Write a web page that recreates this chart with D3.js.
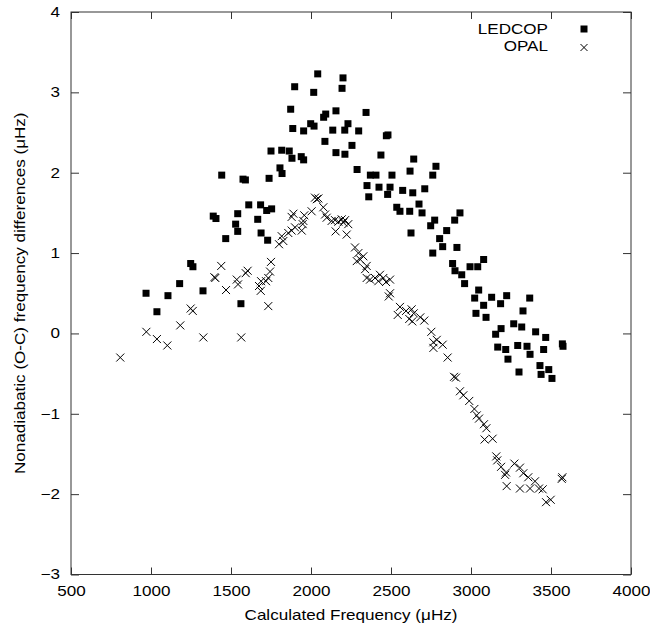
<!DOCTYPE html>
<meta charset="utf-8">
<style>
body { margin: 0; background: #fff; }
text { font-family: "Liberation Sans", Arial, Helvetica, sans-serif; font-size: 14px; fill: #000; }
</style>
<svg width="650" height="629"></svg>
<script src="https://d3js.org/d3.v7.min.js"></script>
<script>
// LEDCOP (filled squares)
var ledcopFreq = [969,1037,1106,1179,1248,1262,1325,1389,1406,1442,1467,1529,1542,1542,1562,1575,1590,1611,1667,1685,1688,1723,1754,1729,1738,1750,1806,1819,1817,1864,1873,1881,1886,1898,1939,1954,1954,1998,2017,2019,2042,2079,2087,2092,2136,2156,2156,2194,2200,2211,2212,2231,2256,2288,2298,2344,2350,2361,2371,2406,2425,2437,2471,2481,2479,2494,2506,2536,2556,2573,2617,2619,2625,2636,2642,2675,2694,2711,2748,2761,2761,2773,2781,2804,2823,2848,2885,2898,2900,2912,2931,2942,2960,2994,3023,3031,3042,3048,3079,3079,3094,3129,3154,3167,3185,3188,3217,3223,3231,3267,3292,3300,3317,3325,3350,3367,3369,3404,3431,3438,3454,3467,3486,3506,3571,3575];
var ledcopDiff = [0.50,0.27,0.47,0.62,0.87,0.83,0.53,1.46,1.43,1.97,1.18,1.36,1.27,1.49,0.37,1.92,1.91,1.60,1.42,1.60,1.25,1.53,1.55,1.16,1.93,2.27,2.06,1.99,2.28,2.27,2.79,2.18,2.55,3.07,2.20,2.16,2.52,2.61,3.00,2.58,3.23,2.69,2.39,2.73,2.53,2.77,2.25,3.05,3.18,2.53,2.23,2.61,2.34,2.04,2.52,2.75,1.84,1.70,1.97,1.97,1.82,2.22,2.46,2.47,1.73,1.82,1.97,1.57,1.52,1.78,1.52,2.02,1.25,1.75,2.17,1.61,1.50,1.80,1.34,1.97,1.00,1.41,2.08,1.18,1.08,1.28,0.87,1.41,0.78,1.07,1.50,0.73,0.62,0.83,0.44,0.25,0.83,0.54,0.92,0.35,0.20,0.45,-0.01,-0.17,0.37,0.06,-0.20,0.47,-0.32,0.12,-0.15,-0.48,0.08,0.28,-0.16,0.44,-0.26,0.02,-0.40,-0.51,-0.20,-0.05,-0.45,-0.56,-0.13,-0.16];

// OPAL (crosses)
var opalFreq = [808,971,1037,1102,1183,1248,1261,1327,1396,1402,1439,1469,1536,1544,1564,1592,1604,1675,1686,1688,1719,1733,1733,1744,1750,1800,1817,1827,1858,1879,1879,1890,1900,1942,1948,1952,1958,2004,2025,2036,2046,2077,2088,2098,2129,2150,2154,2171,2192,2202,2213,2223,2233,2275,2286,2296,2308,2327,2338,2348,2348,2369,2400,2421,2431,2452,2469,2486,2494,2494,2542,2556,2594,2614,2629,2633,2642,2683,2708,2752,2765,2765,2786,2823,2854,2894,2906,2931,2952,2989,3021,3036,3050,3081,3085,3096,3135,3158,3164,3188,3213,3219,3223,3271,3306,3306,3327,3358,3369,3400,3425,3448,3469,3498,3567,3571];
var opalDiff = [-0.30,0.02,-0.07,-0.15,0.10,0.31,0.28,-0.05,0.70,0.69,0.84,0.54,0.67,0.61,-0.05,0.75,0.78,0.59,0.53,0.65,0.65,0.69,0.34,0.77,0.89,1.11,1.21,1.15,1.25,1.28,1.45,1.49,1.32,1.28,1.36,1.40,1.47,1.52,1.69,1.67,1.68,1.57,1.48,1.44,1.40,1.41,1.27,1.39,1.42,1.38,1.41,1.23,1.36,1.07,0.90,1.00,0.92,0.96,0.80,0.84,0.69,0.67,0.69,0.65,0.73,0.69,0.64,0.46,0.50,0.67,0.23,0.33,0.28,0.18,0.30,0.15,0.25,0.20,0.16,0.02,-0.11,-0.18,-0.08,-0.14,-0.30,-0.54,-0.55,-0.72,-0.77,-0.84,-0.94,-1.02,-1.06,-1.13,-1.32,-1.18,-1.31,-1.53,-1.58,-1.66,-1.76,-1.73,-1.90,-1.62,-1.67,-1.93,-1.74,-1.79,-1.93,-1.84,-1.93,-1.94,-2.10,-2.07,-1.81,-1.79];

var xTicks = [500,1000,1500,2000,2500,3000,3500,4000];
var yTicks = [-3,-2,-1,0,1,2,3,4];
var seriesNames = ["LEDCOP", "OPAL"];

var svg = d3.select("svg");
var plotLeft = 71, plotRight = 631, plotTop = 12, plotBottom = 574.5;
var sx = 1.22; // glyphs in the reference are drawn wider than tall

var x = d3.scaleLinear().domain([500, 4000]).range([plotLeft, plotRight]);
var y = d3.scaleLinear().domain([-3, 4]).range([plotBottom, plotTop]);

// ticks, all pointing inward
var ax = svg.append("g").attr("transform", "translate(0," + plotBottom + ")")
  .call(d3.axisBottom(x).tickValues(xTicks).tickSize(-7).tickSizeOuter(0).tickPadding(12).tickFormat(d3.format("d")));
var axTop = svg.append("g").attr("transform", "translate(0," + plotTop + ")")
  .call(d3.axisTop(x).tickValues(xTicks).tickSize(-7).tickSizeOuter(0).tickFormat(""));
var ay = svg.append("g").attr("transform", "translate(" + plotLeft + ",0)")
  .call(d3.axisLeft(y).tickValues(yTicks).tickSize(-8).tickSizeOuter(0).tickPadding(9).tickFormat(d3.format("d")));
var ayRight = svg.append("g").attr("transform", "translate(" + plotRight + ",0)")
  .call(d3.axisRight(y).tickValues(yTicks).tickSize(-8).tickSizeOuter(0).tickFormat(""));

[ax, axTop, ay, ayRight].forEach(function(g) {
  g.attr("font-family", null).attr("font-size", null);
  g.select(".domain").remove();
  g.selectAll(".tick line").attr("stroke", "#333");
  g.selectAll("text").attr("fill", "#000")
    .attr("transform", "scale(" + sx + ",1)");
});

svg.append("rect")
  .attr("x", plotLeft).attr("y", plotTop)
  .attr("width", plotRight - plotLeft).attr("height", plotBottom - plotTop)
  .attr("fill", "none").attr("stroke", "#333").attr("stroke-width", 1);

// axis titles
svg.append("text")
  .attr("transform", "translate(" + ((plotLeft + plotRight) / 2) + ",620) scale(" + sx + ",1)")
  .attr("text-anchor", "middle")
  .text("Calculated Frequency (\u03bcHz)");

svg.append("text")
  .attr("transform", "translate(25," + ((plotTop + plotBottom) / 2) + ") rotate(-90) scale(" + sx + ",1)")
  .attr("text-anchor", "middle")
  .text("Nonadiabatic (O-C) frequency differences (\u03bcHz)");

// data
var ledcop = ledcopFreq.map(function(f, i) { return [f, ledcopDiff[i]]; });
var opal = opalFreq.map(function(f, i) { return [f, opalDiff[i]]; });

var crossPath = "M-4,-4L4,4M-4,4L4,-4";

svg.append("g")
  .selectAll("path")
  .data(opal)
  .enter().append("path")
    .attr("transform", function(d) { return "translate(" + x(d[0]) + "," + y(d[1]) + ")"; })
    .attr("d", crossPath)
    .attr("stroke", "#000")
    .attr("stroke-width", 1)
    .attr("fill", "none");

svg.append("g")
  .selectAll("rect")
  .data(ledcop)
  .enter().append("rect")
    .attr("x", function(d) { return x(d[0]) - 3.5; })
    .attr("y", function(d) { return y(d[1]) - 3.5; })
    .attr("width", 7)
    .attr("height", 7)
    .attr("fill", "#000");

// legend
var legend = svg.append("g");
legend.append("text")
  .attr("transform", "translate(548,34) scale(" + sx + ",1)")
  .attr("text-anchor", "end")
  .text(seriesNames[0]);
legend.append("rect")
  .attr("x", 580.5).attr("y", 25.5).attr("width", 7).attr("height", 7).attr("fill", "#000");
legend.append("text")
  .attr("transform", "translate(548,51) scale(" + sx + ",1)")
  .attr("text-anchor", "end")
  .text(seriesNames[1]);
legend.append("path")
  .attr("transform", "translate(584,47.5)")
  .attr("d", "M-3.5,-3.5L3.5,3.5M-3.5,3.5L3.5,-3.5")
  .attr("stroke", "#000").attr("fill", "none");
</script>
